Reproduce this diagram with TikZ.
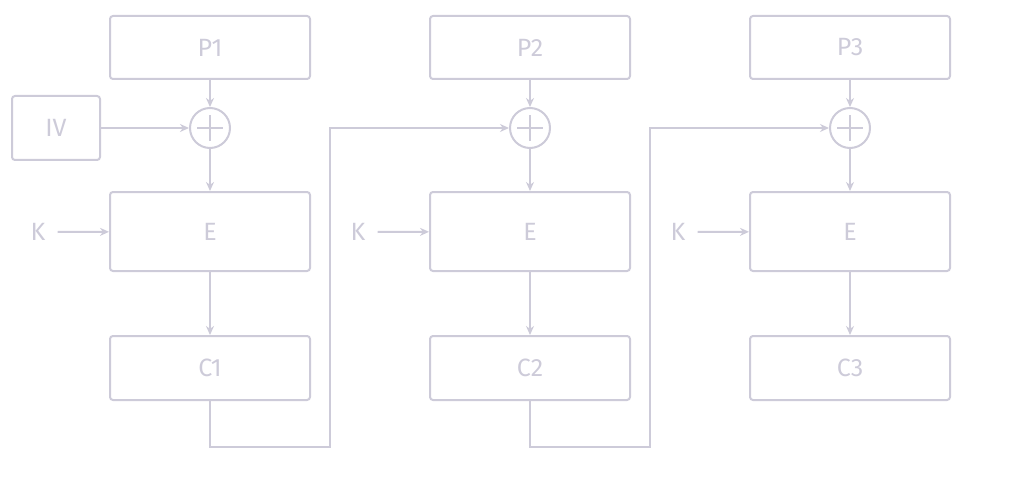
\documentclass[tikz,border=0pt]{standalone}
\usepackage{fontspec}
\setmainfont{Fira Sans}
\usetikzlibrary{arrows.meta}
\definecolor{linegray}{HTML}{CDCBD9}
\tikzset{
  blockbox/.style={draw=linegray, line width=2pt, rounded corners=3pt,
    minimum width=200pt, text=linegray, inner sep=0pt,
    font=\fontsize{25}{29}\selectfont},
  keylabel/.style={text=linegray, inner sep=0pt, font=\fontsize{25}{29}\selectfont},
  xorgate/.style={draw=linegray, circle, line width=2pt, minimum size=40pt, inner sep=0pt,
    path picture={\draw[linegray, line width=2pt]
      ([xshift=-13pt]path picture bounding box.center) -- ([xshift=13pt]path picture bounding box.center)
      ([yshift=-13pt]path picture bounding box.center) -- ([yshift=13pt]path picture bounding box.center);}},
  flow/.style={draw=linegray, line width=2pt, -{Stealth[length=9pt,width=8pt]}},
  link/.style={draw=linegray, line width=2pt}
}
\begin{document}
\begin{tikzpicture}[x=1pt,y=-1pt]
    \useasboundingbox (0,0) rectangle (1020,500);

    % Block 1
    \node[blockbox, minimum height=63pt] (p1) at (210,47.5) {P1};
    \node[blockbox, minimum width=88pt, minimum height=64pt] (iv) at (56,128) {IV};
    \node[xorgate] (xor1) at (210,128) {};
    \node[blockbox, minimum height=79pt] (e1) at (210,231.5) {E};
    \node[keylabel] (k1) at (38,232) {K};
    \node[blockbox, minimum height=64pt] (c1) at (210,368) {C1};
    \draw[flow] (p1) -- (xor1);
    \draw[flow] (iv) -- (xor1);
    \draw[flow] (xor1) -- (e1);
    \draw[flow] ([xshift=12pt]k1.east) -- (e1);
    \draw[flow] (e1) -- (c1);

    % Block 2
    \node[blockbox, minimum height=63pt] (p2) at (530,47.5) {P2};
    \node[xorgate] (xor2) at (530,128) {};
    \node[blockbox, minimum height=79pt] (e2) at (530,231.5) {E};
    \node[keylabel] (k2) at (358,232) {K};
    \node[blockbox, minimum height=64pt] (c2) at (530,368) {C2};
    \draw[flow] (p2) -- (xor2);
    \draw[flow] (xor2) -- (e2);
    \draw[flow] ([xshift=12pt]k2.east) -- (e2);
    \draw[flow] (e2) -- (c2);

    % Block 3
    \node[blockbox, minimum height=63pt] (p3) at (850,47.5) {P3};
    \node[xorgate] (xor3) at (850,128) {};
    \node[blockbox, minimum height=79pt] (e3) at (850,231.5) {E};
    \node[keylabel] (k3) at (678,232) {K};
    \node[blockbox, minimum height=64pt] (c3) at (850,368) {C3};
    \draw[flow] (p3) -- (xor3);
    \draw[flow] (xor3) -- (e3);
    \draw[flow] ([xshift=12pt]k3.east) -- (e3);
    \draw[flow] (e3) -- (c3);

    % Chaining
    \coordinate (fb1) at (330,447);
    \coordinate (fb2) at (650,447);
    \draw[flow] (c1.south) |- (fb1) |- (xor2.west);
    \draw[flow] (c2.south) |- (fb2) |- (xor3.west);
\end{tikzpicture}
\end{document}
